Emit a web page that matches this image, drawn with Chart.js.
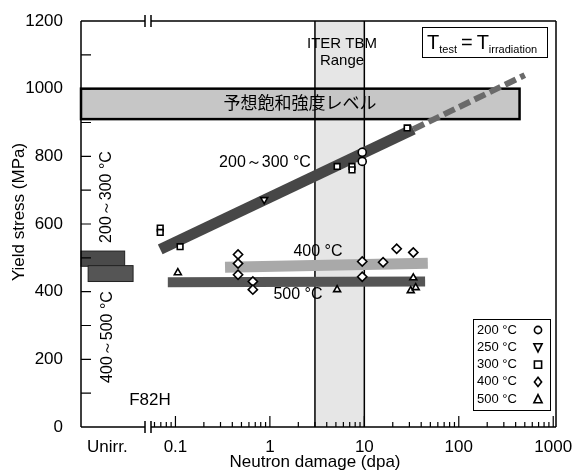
<!DOCTYPE html>
<html>
<head>
<meta charset="utf-8">
<script src="https://cdn.jsdelivr.net/npm/chart.js@4/dist/chart.umd.min.js"></script>
<style>
  html, body { margin: 0; padding: 0; background: #fff; }
</style>
</head>
<body>
<canvas id="c" width="584" height="471"></canvas>
<script>
// measured points: dpa and yield stress (MPa) per test temperature
const dpa200 = [9.5, 9.5];
const ys200 = [812, 785];
const dpa250 = [0.87];
const ys250 = [672];
const dpa300 = [0.069, 0.069, 0.112, 5.15, 7.4, 7.4, 28.4];
const ys300 = [588, 575, 533, 770, 770, 760, 884];
const dpa400 = [0.46, 0.46, 0.46, 0.66, 0.66, 9.5, 9.5, 15.8, 22, 33];
const ys400 = [510, 483, 450, 430, 406, 489, 444, 487, 527, 516];
const dpa500 = [0.106, 5.15, 31, 33, 35];
const ys500 = [456, 406, 403, 441, 412];

// trend bands
const trend23Dpa = [0.069, 33];
const trend23Ys = [525, 880];
const trend23ExtDpa = [33, 500];
const trend23ExtYs = [880, 1040];
const trend400Dpa = [0.335, 47];
const trend400Ys = [472, 484];
const trend500Dpa = [0.083, 44];
const trend500Ys = [428, 430];

// ranges
const satLevel = [910, 1000];
const satEndDpa = 440;
const tbmRange = [3, 10];
const unirr23 = [475, 520];
const unirr45 = [430, 477];

// tick labels
const xTickValues = [0.019, 0.1, 1, 10, 100, 1000];
const xTickLabels = ['Unirr.', '0.1', '1', '10', '100', '1000'];

const legendLabels = ['200 °C', '250 °C', '300 °C', '400 °C', '500 °C'];

const FONT = '"Liberation Sans", Arial, sans-serif';
const JFONT = '"Noto Sans CJK JP", sans-serif';

const xMinor = [0.06, 0.07, 0.08, 0.09];
[0.1, 1, 10, 100].forEach(d => { for (let m = 2; m <= 9; m++) xMinor.push(+(d * m).toPrecision(3)); });

function pts(xs, ys) { return xs.map((x, i) => ({ x: x, y: ys[i] })); }

function marker(ctx, style, x, y, r) {
  ctx.beginPath();
  if (style === 'circle') {
    ctx.arc(x, y, r, 0, Math.PI * 2);
  } else if (style === 'rect') {
    ctx.rect(x - r, y - r, 2 * r, 2 * r);
  } else if (style === 'diamond') {
    ctx.moveTo(x, y - r - 1); ctx.lineTo(x + r, y); ctx.lineTo(x, y + r + 1); ctx.lineTo(x - r, y);
    ctx.closePath();
  } else if (style === 'tri') {
    ctx.moveTo(x, y - r - 1); ctx.lineTo(x + r + 0.5, y + r); ctx.lineTo(x - r - 0.5, y + r);
    ctx.closePath();
  } else if (style === 'tridown') {
    ctx.moveTo(x, y + r + 1); ctx.lineTo(x + r + 0.5, y - r); ctx.lineTo(x - r - 0.5, y - r);
    ctx.closePath();
  }
  ctx.fillStyle = '#fff';
  ctx.fill();
  ctx.lineWidth = 1.6;
  ctx.strokeStyle = '#000';
  ctx.stroke();
}

const deco = {
  id: 'deco',
  beforeDatasetsDraw(chart) {
    const { ctx, chartArea: a, scales: { x, y } } = chart;
    ctx.save();
    // ITER TBM range
    const t1 = x.getPixelForValue(tbmRange[0]);
    const t2 = x.getPixelForValue(tbmRange[1]);
    ctx.fillStyle = '#e6e6e6';
    ctx.fillRect(t1, a.top, t2 - t1, a.bottom - a.top);
    // saturation level box
    const sx2 = x.getPixelForValue(satEndDpa);
    const sy1 = y.getPixelForValue(satLevel[1]);
    const sy2 = y.getPixelForValue(satLevel[0]);
    ctx.fillStyle = '#c6c6c6';
    ctx.fillRect(a.left, sy1, sx2 - a.left, sy2 - sy1);
    ctx.lineWidth = 2.5;
    ctx.strokeStyle = '#000';
    ctx.strokeRect(a.left, sy1, sx2 - a.left, sy2 - sy1);
    ctx.lineWidth = 1.5;
    ctx.beginPath();
    ctx.moveTo(t1, a.top); ctx.lineTo(t1, a.bottom);
    ctx.moveTo(t2, a.top); ctx.lineTo(t2, a.bottom);
    ctx.stroke();
    // unirradiated bars
    ctx.fillStyle = '#4a4a4a';
    ctx.strokeStyle = '#222';
    ctx.lineWidth = 1;
    const b1 = [x.getPixelForValue(0.01), x.getPixelForValue(0.029)];
    const b2 = [x.getPixelForValue(0.0119), x.getPixelForValue(0.0356)];
    let yy1 = y.getPixelForValue(unirr23[1]), yy2 = y.getPixelForValue(unirr23[0]);
    ctx.fillRect(b1[0], yy1, b1[1] - b1[0], yy2 - yy1);
    ctx.strokeRect(b1[0], yy1, b1[1] - b1[0], yy2 - yy1);
    yy1 = y.getPixelForValue(unirr45[1]); yy2 = y.getPixelForValue(unirr45[0]);
    ctx.fillStyle = '#555';
    ctx.fillRect(b2[0], yy1, b2[1] - b2[0], yy2 - yy1);
    ctx.strokeRect(b2[0], yy1, b2[1] - b2[0], yy2 - yy1);
    ctx.restore();
  },
  afterDatasetsDraw(chart) {
    const { ctx, chartArea: a, scales: { x, y } } = chart;
    ctx.save();
    ctx.fillStyle = '#000';
    ctx.textAlign = 'center';
    ctx.textBaseline = 'middle';

    // frame with axis break
    const brk1 = 145, brk2 = 151;
    ctx.strokeStyle = '#000';
    ctx.lineWidth = 1.5;
    ctx.beginPath();
    ctx.moveTo(a.left, a.top); ctx.lineTo(a.left, a.bottom);
    ctx.moveTo(a.left, a.bottom); ctx.lineTo(brk1, a.bottom);
    ctx.moveTo(brk2, a.bottom); ctx.lineTo(a.right, a.bottom);
    ctx.moveTo(a.left, a.top); ctx.lineTo(brk1, a.top);
    ctx.moveTo(brk2, a.top); ctx.lineTo(a.right, a.top);
    ctx.moveTo(a.right, a.top); ctx.lineTo(a.right, a.bottom);
    [brk1, brk2].forEach(bx => {
      ctx.moveTo(bx, a.bottom - 6); ctx.lineTo(bx, a.bottom + 6);
      ctx.moveTo(bx, a.top - 6); ctx.lineTo(bx, a.top + 6);
    });
    ctx.stroke();

    // inward ticks
    ctx.lineWidth = 1.2;
    ctx.beginPath();
    for (let v = 100; v < 1200; v += 100) {
      const py = y.getPixelForValue(v);
      ctx.moveTo(a.left, py); ctx.lineTo(a.left + 10, py);
    }
    xTickValues.slice(1).forEach(v => {
      const px = x.getPixelForValue(v);
      ctx.moveTo(px, a.bottom); ctx.lineTo(px, a.bottom - 11);
    });
    xMinor.forEach(v => {
      const px = x.getPixelForValue(v);
      ctx.moveTo(px, a.bottom); ctx.lineTo(px, a.bottom - 5);
    });
    ctx.stroke();

    // axis titles
    ctx.font = '17px ' + FONT;
    ctx.fillText('Neutron damage (dpa)', 315, 462);
    ctx.save();
    ctx.translate(19, 212);
    ctx.rotate(-Math.PI / 2);
    ctx.fillText('Yield stress (MPa)', 0, 0);
    ctx.restore();

    // annotations
    ctx.font = '17px ' + JFONT;
    ctx.fillText('予想飽和強度レベル', 300, 103);
    ctx.font = '15px ' + FONT;
    ctx.fillText('ITER TBM', 342, 44);
    ctx.fillText('Range', 342, 61);
    ctx.font = '16px ' + FONT;
    ctx.fillText('200～300 °C', 265, 163);
    ctx.fillText('400 °C', 318, 252);
    ctx.fillText('500 °C', 298, 295);
    ctx.font = '17px ' + FONT;
    ctx.fillText('F82H', 150, 400);
    ctx.font = '16px ' + FONT;
    ctx.save();
    ctx.translate(107, 197);
    ctx.rotate(-Math.PI / 2);
    ctx.fillText('200～300 °C', 0, 0);
    ctx.restore();
    ctx.save();
    ctx.translate(108, 337);
    ctx.rotate(-Math.PI / 2);
    ctx.fillText('400～500 °C', 0, 0);
    ctx.restore();

    // T_test = T_irradiation box
    ctx.lineWidth = 1;
    ctx.strokeRect(422.5, 27.5, 125, 30);
    ctx.textAlign = 'left';
    ctx.textBaseline = 'alphabetic';
    let cx = 427;
    ctx.font = '20px ' + FONT;
    ctx.fillText('T', cx, 49); cx += ctx.measureText('T').width;
    ctx.font = '11px ' + FONT;
    ctx.fillText('test', cx, 53); cx += ctx.measureText('test').width + 4;
    ctx.font = '20px ' + FONT;
    ctx.fillText('=', cx, 49); cx += ctx.measureText('=').width + 4;
    ctx.fillText('T', cx, 49); cx += ctx.measureText('T').width;
    ctx.font = '11px ' + FONT;
    ctx.fillText('irradiation', cx, 53);

    // legend
    ctx.lineWidth = 1;
    ctx.strokeStyle = '#000';
    ctx.strokeRect(473.5, 319.5, 77, 91);
    ctx.font = '13px ' + FONT;
    ctx.textBaseline = 'middle';
    const styles = ['circle', 'tridown', 'rect', 'diamond', 'tri'];
    legendLabels.forEach((lab, i) => {
      const ly = 330 + i * 17.3;
      ctx.fillStyle = '#000';
      ctx.fillText(lab, 477, ly);
      marker(ctx, styles[i], 538, ly, 3.6);
    });
    ctx.restore();
  }
};

const mk = (label, xs, ys, style, rot) => ({
  label: label,
  data: pts(xs, ys),
  pointStyle: style,
  rotation: rot || 0,
  pointRadius: style === 'rectRot' ? 4.6 : 4,
  pointBackgroundColor: '#fff',
  pointBorderColor: '#000',
  pointBorderWidth: 1.6,
  order: 0,
});

const band = (xs, ys, color, width, dash) => ({
  data: pts(xs, ys),
  showLine: true,
  borderColor: color,
  borderWidth: width,
  borderDash: dash || [],
  borderCapStyle: 'butt',
  pointRadius: 0,
  order: 1,
});

new Chart(document.getElementById('c'), {
  type: 'scatter',
  data: {
    datasets: [
      mk('200 °C', dpa200, ys200, 'circle'),
      mk('250 °C', dpa250, ys250, 'triangle', 180),
      mk('300 °C', dpa300, ys300, 'rect'),
      mk('400 °C', dpa400, ys400, 'rectRot'),
      mk('500 °C', dpa500, ys500, 'triangle'),
      band(trend23Dpa, trend23Ys, '#474747', 11),
      band(trend23ExtDpa, trend23ExtYs, '#6a6a6a', 6, [12, 5]),
      band(trend400Dpa, trend400Ys, '#a9a9a9', 11),
      band(trend500Dpa, trend500Ys, '#555', 10),
    ],
  },
  options: {
    responsive: false,
    animation: false,
    devicePixelRatio: 1,
    layout: { padding: { top: 21, right: 28, left: 0, bottom: 0 } },
    plugins: {
      legend: { display: false },
      tooltip: { enabled: false },
    },
    scales: {
      x: {
        type: 'logarithmic',
        min: 0.01,
        max: 1070,
        grid: { display: false },
        border: { display: false },
        afterBuildTicks: (s) => { s.ticks = xTickValues.map(v => ({ value: v })); },
        afterFit: (s) => { s.height = 44; },
        ticks: {
          autoSkip: false,
          maxRotation: 0,
          padding: 2,
          color: '#000',
          font: { family: FONT, size: 17 },
          callback: (v) => {
            const i = xTickValues.indexOf(v);
            return i >= 0 ? xTickLabels[i] : '';
          },
        },
      },
      y: {
        min: 0,
        max: 1200,
        grid: { display: false },
        border: { display: false },
        afterFit: (s) => { s.width = 81; },
        ticks: {
          stepSize: 100,
          padding: 10,
          color: '#000',
          font: { family: FONT, size: 17 },
          callback: (v) => (v % 200 === 0 ? v : ''),
        },
      },
    },
  },
  plugins: [deco],
});
</script>
</body>
</html>
